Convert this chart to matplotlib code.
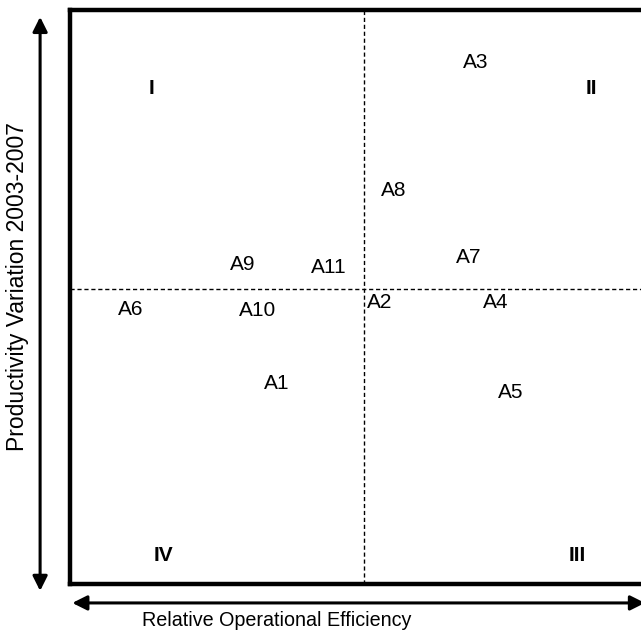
import matplotlib.pyplot as plt

plt.rcParams['font.family'] = ['Liberation Sans', 'DejaVu Sans']

# Airport positions (relative efficiency, productivity variation)
labels = ['A1', 'A2', 'A3', 'A4', 'A5', 'A6', 'A7', 'A8', 'A9', 'A10', 'A11']
efficiency = [36.0, 53.9, 70.6, 74.1, 76.7, 10.6, 69.4, 56.3, 30.1, 32.7, 45.0]
productivity = [35.0, 49.0, 90.8, 49.0, 33.3, 47.9, 56.8, 68.5, 55.6, 47.7, 55.1]

# Quadrant names and where they sit
quadrants = ['I', 'II', 'III', 'IV']
quad_x = [14.1, 90.6, 88.3, 16.2]
quad_y = [86.4, 86.4, 4.9, 4.9]

x_split = 51.1
y_split = 51.4

fig = plt.figure(figsize=(6.41, 6.30), dpi=100)
ax = fig.add_axes([70 / 641, 46 / 630, 575 / 641, 574 / 630])
ax.set_xlim(0, 100)
ax.set_ylim(0, 100)
ax.set_xticks([])
ax.set_yticks([])
for s in ax.spines.values():
    s.set_linewidth(3.2)
    s.set_clip_on(False)

ax.axvline(x_split, color='black', lw=1, ls=(0, (3, 2)))
ax.axhline(y_split, color='black', lw=1, ls=(0, (3, 2)))

for lab, x, y in zip(labels, efficiency, productivity):
    ax.text(x, y, lab, ha='center', va='center', fontsize=15)

for q, x, y in zip(quadrants, quad_x, quad_y):
    ax.text(x, y, q, ha='center', va='center', fontsize=15, fontweight='bold')

# double-headed arrows outside the box
ax.annotate('', xy=(-0.052, 0.988), xytext=(-0.052, -0.012), xycoords='axes fraction',
            arrowprops=dict(arrowstyle='<|-|>', lw=2.2, color='black',
                            mutation_scale=22, shrinkA=0, shrinkB=0), annotation_clip=False)
ax.annotate('', xy=(1.0, -0.033), xytext=(0.004, -0.033), xycoords='axes fraction',
            arrowprops=dict(arrowstyle='<|-|>', lw=2.2, color='black',
                            mutation_scale=22, shrinkA=0, shrinkB=0), annotation_clip=False)

ax.text(-0.092, 0.518, 'Productivity Variation 2003-2007', transform=ax.transAxes,
        rotation=90, ha='center', va='center', fontsize=16.5)
ax.text(0.36, -0.063, 'Relative Operational Efficiency', transform=ax.transAxes,
        ha='center', va='center', fontsize=14.2)

fig.savefig('out.png', dpi=100)
